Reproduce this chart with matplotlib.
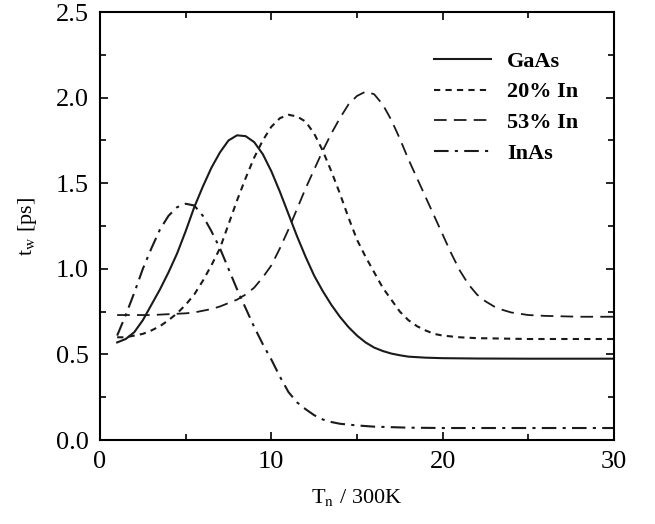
import matplotlib
matplotlib.use("Agg")
import matplotlib.pyplot as plt
from matplotlib.ticker import MultipleLocator

plt.rcParams['font.family'] = ['Liberation Serif', 'DejaVu Serif']
plt.rcParams['mathtext.fontset'] = 'stix'

# values
gaas_x = [1, 1.5, 2, 2.5, 3, 3.5, 4, 4.5, 5, 5.5, 6, 6.5, 7, 7.5, 8, 8.5, 9, 9.5, 10, 10.5,
          11, 11.5, 12, 12.5, 13, 13.5, 14, 14.5, 15, 15.5, 16, 16.5, 17, 17.5, 18, 19, 20, 22, 25, 30]
gaas_y = [0.57, 0.59, 0.63, 0.70, 0.79, 0.88, 0.98, 1.09, 1.22, 1.36, 1.48, 1.59, 1.68, 1.75, 1.78, 1.775, 1.74, 1.67, 1.57, 1.45,
          1.32, 1.19, 1.07, 0.96, 0.87, 0.79, 0.72, 0.66, 0.61, 0.57, 0.54, 0.52, 0.505, 0.495, 0.487, 0.481, 0.478, 0.476, 0.475, 0.475]

in20_x = [1, 1.5, 2, 2.5, 3, 3.5, 4, 4.5, 5, 5.5, 6, 6.5, 7, 7.5, 8, 8.5, 9, 9.5, 10, 10.5, 11, 11.5,
          12, 12.5, 13, 13.5, 14, 14.5, 15, 15.5, 16, 16.5, 17, 17.5, 18, 18.5, 19, 19.5, 20, 21, 22, 25, 30]
in20_y = [0.60, 0.60, 0.61, 0.62, 0.64, 0.665, 0.70, 0.74, 0.79, 0.85, 0.93, 1.02, 1.12, 1.26, 1.40, 1.53, 1.65, 1.75, 1.83, 1.88, 1.90, 1.89,
          1.86, 1.79, 1.69, 1.57, 1.44, 1.30, 1.17, 1.07, 0.98, 0.89, 0.82, 0.75, 0.70, 0.665, 0.64, 0.62, 0.61, 0.60, 0.595, 0.59, 0.59]

in53_x = [1, 2, 3, 4, 5, 5.5, 6, 6.5, 7, 7.5, 8, 8.5, 9, 9.5, 10, 10.5, 11, 11.5, 12, 12.5, 13, 13.5, 14, 14.5, 15, 15.5,
          16, 16.5, 17, 17.5, 18, 18.5, 19, 19.5, 20, 20.5, 21, 21.5, 22, 22.5, 23, 23.5, 24, 25, 26, 28, 30]
in53_y = [0.73, 0.73, 0.73, 0.735, 0.74, 0.745, 0.755, 0.765, 0.78, 0.80, 0.82, 0.85, 0.89, 0.95, 1.02, 1.12, 1.23, 1.35, 1.47, 1.58, 1.69, 1.79, 1.88, 1.96, 2.01, 2.035,
          2.02, 1.96, 1.87, 1.76, 1.64, 1.53, 1.42, 1.31, 1.20, 1.09, 0.99, 0.91, 0.85, 0.81, 0.78, 0.76, 0.745, 0.73, 0.725, 0.72, 0.72]

inas_x = [1, 1.5, 2, 2.5, 3, 3.5, 4, 4.5, 5, 5.5, 6, 6.5, 7, 7.5, 8, 8.5, 9, 9.5, 10, 10.5, 11, 11.5,
          12, 12.5, 13, 13.5, 14, 15, 16, 17, 18, 20, 25, 30]
inas_y = [0.61, 0.73, 0.86, 1.00, 1.12, 1.23, 1.31, 1.36, 1.38, 1.37, 1.31, 1.22, 1.12, 1.00, 0.88, 0.77, 0.66, 0.56, 0.47, 0.37, 0.28, 0.22,
          0.18, 0.145, 0.12, 0.105, 0.095, 0.085, 0.078, 0.075, 0.072, 0.07, 0.07, 0.07]

fig = plt.figure(figsize=(6.55, 5.24), dpi=100)
ax = fig.add_axes([0.1527, 0.1603, 0.7847, 0.8167])

lc = '#1a1a1a'
ax.plot(gaas_x, gaas_y, color=lc, lw=1.5, ls='-', label='GaAs')
ax.plot(in20_x, in20_y, color=lc, lw=1.5, ls=(0, (3, 2.5)), label='20% In')
ax.plot(in53_x, in53_y, color=lc, lw=1.3, ls=(0, (7, 4)), label='53% In')
ax.plot(inas_x, inas_y, color=lc, lw=1.5, ls=(0, (7, 3, 1.5, 3)), label='InAs')

ax.set_xlim(0, 30)
ax.set_ylim(0, 2.5)
ax.xaxis.set_major_locator(MultipleLocator(10))
ax.xaxis.set_minor_locator(MultipleLocator(5))
ax.yaxis.set_major_locator(MultipleLocator(0.5))
ax.yaxis.set_minor_locator(MultipleLocator(0.25))
ax.yaxis.set_major_formatter(plt.FormatStrFormatter('%.1f'))
ax.tick_params(which='both', direction='in', top=True, right=True, labelsize=19, width=1.2)
ax.tick_params(which='major', length=6, pad=8)
ax.tick_params(which='minor', length=4)
for s in ax.spines.values():
    s.set_linewidth(1.5)

ax.set_xlabel(r'T$_{\rm n}$ / 300K', fontsize=16, labelpad=10)
ax.set_ylabel(r't$_{\rm w}$ [ps]', fontsize=16, labelpad=12)

leg = ax.legend(loc='upper left', bbox_to_anchor=(0.61, 0.955), frameon=False,
                handlelength=2.6, handletextpad=0.7, labelspacing=0.45,
                prop={'weight': 'bold', 'size': 16})

fig.savefig('out.png', dpi=100)
